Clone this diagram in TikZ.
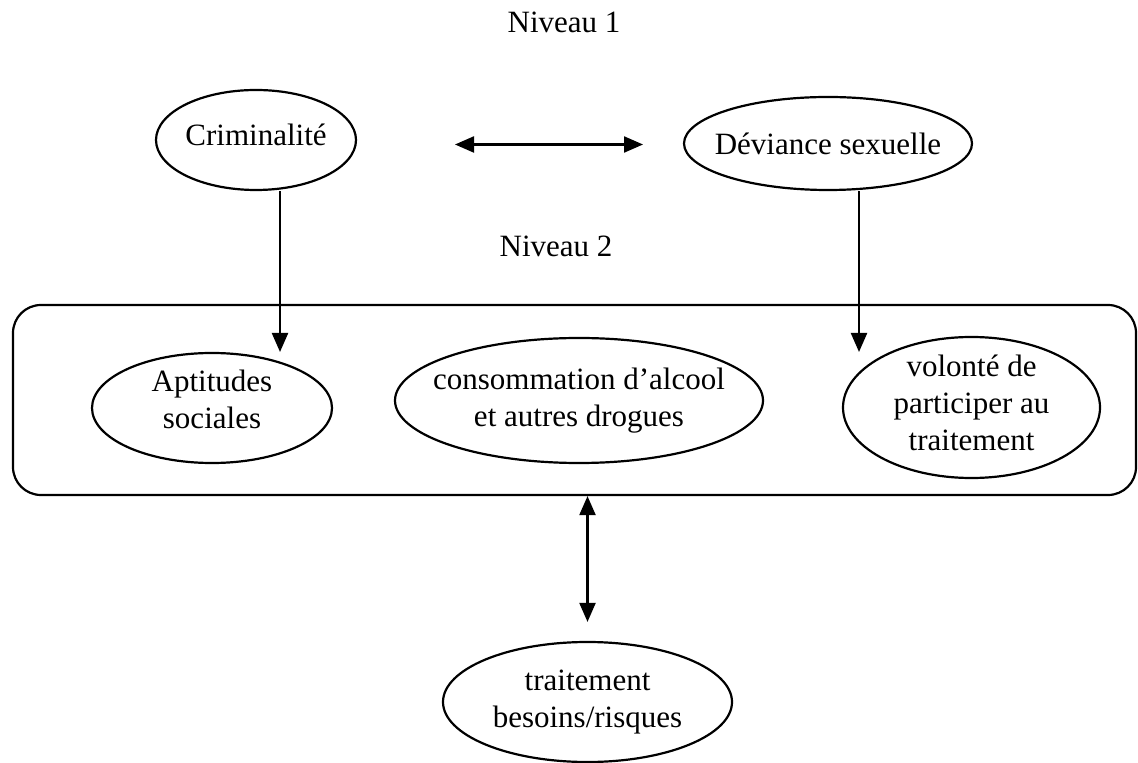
\documentclass[tikz,border=0pt]{standalone}
\usepackage{fontspec}
\setmainfont{Liberation Serif}
\usetikzlibrary{shapes.geometric,arrows.meta}

\begin{document}
\begin{tikzpicture}[x=0.5pt,y=-0.5pt,line width=1.1pt,>={Triangle[length=9.5pt,width=8pt]},
		font=\fontsize{15.5}{18.5}\selectfont,
		bubble/.style={ellipse, draw, inner sep=-50pt, align=center}]
			\useasboundingbox (0,0) rectangle (1138,763);
			% levels
			\node[anchor=base] (niv1) at (564,33) {Niveau 1};
			\node[anchor=base] (niv2) at (556,257) {Niveau 2};
			\node[bubble, minimum width=100pt, minimum height=50pt, text depth=5.5pt] (crim) at (256,140) {Criminalité};
			\node[bubble, minimum width=144pt, minimum height=46.5pt] (dev) at (828,143.5) {Déviance sexuelle};
			
			% niveau 2 box
			\node[draw, rounded corners=14pt, minimum width=561.5pt, minimum height=95pt] (box) at (574.5,400) {};
			\node[bubble, minimum width=120pt, minimum height=55pt, text depth=9pt] (apt) at (212,408) {Aptitudes\\sociales};
			\node[bubble, minimum width=184pt, minimum height=62.5pt] (cons) at (579,400.5) {consommation d’alcool\\et autres drogues};
			\node[bubble, minimum width=128.5pt, minimum height=70.5pt, text depth=5pt] (vol) at (971.5,407.5) {volonté de\\participer au\\traitement};
			\node[bubble, minimum width=144.5pt, minimum height=60pt] (trait) at (587.5,702) {traitement\\besoins/risques};
			
			\coordinate (h1) at (455,144.5);
			\coordinate (h2) at (643,144.5);
			\coordinate (c1) at (280,352);
			\coordinate (d1) at (859,352);
			
			\draw[<->] (h1) -- (h2);
			\draw[->] (crim.south -| c1) -- (c1);
			\draw[->] (dev.south -| d1) -- (d1);
			\draw[<->] (box.south -| trait) -- ([yshift=9.5pt]trait.north);
	\end{tikzpicture}
\end{document}
